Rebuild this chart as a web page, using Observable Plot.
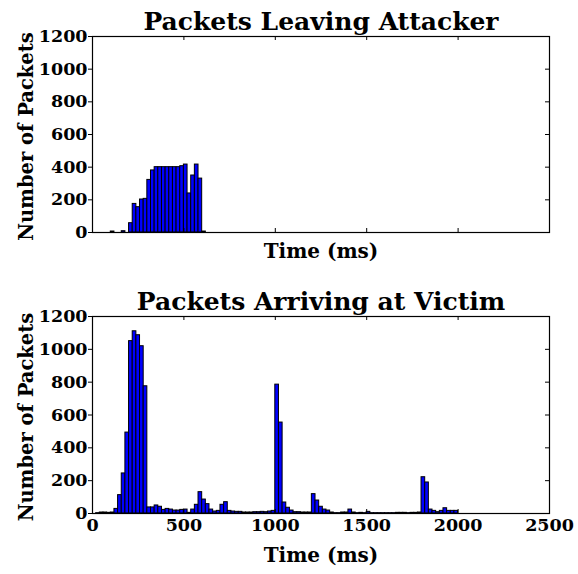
<!DOCTYPE html>
<html>
<head>
<meta charset="utf-8">
<script src="https://cdn.jsdelivr.net/npm/d3@7"></script>
<script src="https://cdn.jsdelivr.net/npm/@observablehq/plot@0.6"></script>
<style>
  html, body { margin: 0; padding: 0; background: #ffffff; }
  #chart svg { display: block; }
</style>
</head>
<body>
<div id="chart"></div>
<script>
// Histogram bin width in ms (bins start at 0)
const binWidth = 20;

// Packets leaving attacker, one count per 20 ms bin starting at 0 ms
const attackerCounts = [
  0, 0, 0, 0, 0, 6, 0, 0, 8, 0,
  57, 175, 155, 202, 206, 322, 380, 400, 400, 400,
  400, 400, 400, 400, 406, 416, 239, 349, 416, 330,
  6
];

// Packets arriving at victim, one count per 20 ms bin starting at 0 ms
const victimCounts = [
  0, 2, 6, 6, 4, 6, 28, 112, 244, 493,
  1050, 1110, 1086, 1019, 775, 37, 37, 49, 41, 22,
  28, 24, 18, 18, 22, 24, 4, 24, 53, 130,
  85, 57, 24, 12, 16, 53, 69, 16, 12, 10,
  10, 6, 6, 6, 8, 8, 10, 8, 12, 16,
  785, 554, 67, 35, 18, 8, 8, 6, 6, 6,
  118, 79, 41, 24, 18, 6, 2, 2, 6, 6,
  24, 6, 2, 4, 2, 10, 2, 2, 2, 2,
  2, 2, 2, 4, 4, 4, 2, 4, 4, 6,
  221, 189, 24, 16, 8, 16, 32, 16, 16, 16
];

const xTicks = [0, 500, 1000, 1500, 2000, 2500];
const yTicks = [0, 200, 400, 600, 800, 1000, 1200];
const titles = ["Packets Leaving Attacker", "Packets Arriving at Victim"];
const xLabel = "Time (ms)";
const yLabel = "Number of Packets";

function toBins(counts) {
  return counts
    .map((v, i) => ({ t0: i * binWidth, t1: (i + 1) * binWidth, v }))
    .filter(d => d.v > 0);
}

const W = 578, H = 287, ML = 92, MR = 29;
const FONT = "'DejaVu Serif', 'Liberation Serif', serif";
const TICK = 4;
const fmt = d => String(d);

function panel(counts, title, showXTickLabels, mt, mb, xLabelDy) {
  const fw = W - ML - MR;
  const fh = H - mt - mb;
  const marks = [
    Plot.rectY(toBins(counts), {
      x1: "t0", x2: "t1", y: "v",
      fill: "#0000ff", stroke: "#000000", strokeWidth: 1, inset: 0
    }),
    Plot.frame({ stroke: "#000000", strokeWidth: 1.2 }),
    // right-side and top/bottom inward ticks
    Plot.tickY(yTicks, { y: d => d, stroke: "#000", insetLeft: fw - TICK }),
    Plot.tickX(xTicks, { x: d => d, stroke: "#000", insetTop: fh - TICK }),
    Plot.tickX(xTicks, { x: d => d, stroke: "#000", insetBottom: fh - TICK }),
    Plot.axisY(yTicks, {
      anchor: "left", tickSize: TICK, tickPadding: 1, label: null,
      tickFormat: fmt, fontSize: 17.5, fontWeight: "bold"
    }),
    Plot.text([title], {
      text: d => d, frameAnchor: "top", textAnchor: "middle", lineAnchor: "bottom", dy: -7,
      fontSize: 25, fontWeight: "bold"
    }),
    Plot.text([xLabel], {
      text: d => d, frameAnchor: "bottom", textAnchor: "middle", lineAnchor: "bottom", dy: xLabelDy,
      fontSize: 20, fontWeight: "bold"
    }),
    Plot.text([yLabel], {
      text: d => d, frameAnchor: "left", textAnchor: "middle", lineAnchor: "bottom",
      rotate: -90, dx: -60, dy: 2,
      fontSize: 19.5, fontWeight: "bold"
    })
  ];
  if (showXTickLabels) {
    marks.push(Plot.axisX(xTicks, {
      anchor: "bottom", tickSize: 0, tickPadding: 5, label: null,
      tickFormat: fmt, fontSize: 17.5, fontWeight: "bold"
    }));
  }
  return Plot.plot({
    width: W, height: H,
    marginLeft: ML, marginRight: MR, marginTop: mt, marginBottom: mb,
    style: { fontFamily: FONT, fontWeight: "bold", fontSize: "18px", color: "#000", background: "#fff", overflow: "visible" },
    x: { domain: [0, 2500], axis: showXTickLabels ? undefined : null },
    y: { domain: [0, 1200] },
    marks
  });
}

const root = document.getElementById("chart");
root.appendChild(panel(attackerCounts, titles[0], false, 36, 55, 25));
root.appendChild(panel(victimCounts, titles[1], true, 29, 61, 48));
</script>
</body>
</html>
